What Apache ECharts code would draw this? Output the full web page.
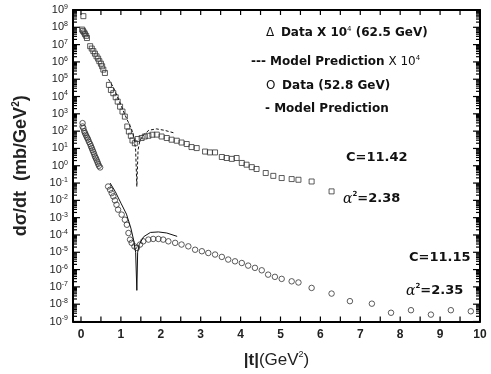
<!DOCTYPE html>
<html>
<head>
<meta charset="utf-8">
<script src="https://cdn.jsdelivr.net/npm/echarts@6/dist/echarts.min.js"></script>
<style>
html, body { margin: 0; padding: 0; background: #fff; }
#chart { width: 491px; height: 374px; }
</style>
</head>
<body>
<div id="chart"></div>
<script>
// 62.5 GeV data (scaled x 10^4): |t| in GeV^2 and dsigma/dt in mb/GeV^2
const tHigh = [0.03, 0.05, 0.06, 0.08, 0.10, 0.13, 0.15,
    0.23, 0.27, 0.31, 0.35, 0.39, 0.43, 0.46, 0.50, 0.53, 0.56, 0.60,
    0.70, 0.75, 0.81, 0.87, 0.92, 0.98, 1.04, 1.10, 1.16, 1.20, 1.25, 1.29, 1.35,
    1.42, 1.52, 1.60, 1.69, 1.79, 1.90, 2.02, 2.15, 2.27, 2.40, 2.52, 2.65, 2.77, 2.90,
    3.11, 3.23, 3.36, 3.53, 3.65, 3.78, 3.90, 4.03, 4.15, 4.28, 4.40, 4.63, 4.82, 5.03, 5.28, 5.45, 5.78, 6.28]
const dsHigh = [7.4e7, 6.2e7, 4.4e8, 5.0e7, 4.0e7, 3.2e7, 2.4e7,
    8.1e6, 5.9e6, 4.2e6, 3.0e6, 2.1e6, 1.55e6, 1.1e6, 7.9e5, 5.6e5, 3.6e5, 2.3e5,
    4.7e4, 2.4e4, 1.55e4, 9.1e3, 5.1e3, 2.6e3, 1.35e3, 690, 186, 95, 54, 29, 20,
    35, 40, 49, 54, 62, 63, 49, 40, 32, 28, 22, 18, 12, 10.5,
    6.6, 5.9, 5.9, 3.2, 2.8, 2.5, 2.8, 1.45, 1.15, 0.83, 0.65, 0.38, 0.26, 0.195, 0.17, 0.155, 0.123, 0.033]

// 52.8 GeV data
const tLow = [0.04, 0.04, 0.06, 0.08, 0.10, 0.12, 0.14, 0.16, 0.18, 0.20, 0.23, 0.25,
    0.27, 0.29, 0.31, 0.33, 0.35, 0.37, 0.39, 0.41, 0.43, 0.45, 0.48,
    0.68, 0.73, 0.77, 0.81, 0.85, 0.89, 0.93, 1.02, 1.10, 1.15, 1.19, 1.23, 1.27, 1.34, 1.40,
    1.48, 1.56, 1.69, 1.81, 1.94, 2.06, 2.19, 2.36, 2.52, 2.69, 2.86, 3.03, 3.19, 3.36,
    3.53, 3.69, 3.86, 4.03, 4.19, 4.36, 4.53, 4.69, 4.86, 5.03, 5.28, 5.45, 5.78, 6.28,
    6.74, 7.29, 7.77, 8.27, 8.77, 9.27, 9.77]
const dsLow = [290, 186, 150, 100, 78, 62, 49, 40, 32, 24, 18, 13.5,
    10.5, 8, 6.2, 4.7, 3.5, 2.8, 2.2, 1.7, 1.3, 1.0, 0.8,
    0.063, 0.041, 0.026, 0.017, 0.01, 5.6e-3, 2.9e-3, 1.5e-3, 7.6e-4, 3.9e-4, 1.3e-4, 5.4e-5, 3.5e-5, 2.2e-5, 1.8e-5,
    2.8e-5, 4.3e-5, 5.4e-5, 5.9e-5, 5.9e-5, 5.4e-5, 4.3e-5, 3.5e-5, 2.8e-5, 2.2e-5, 1.4e-5, 1.15e-5, 9.1e-6, 7.4e-6,
    5.4e-6, 3.8e-6, 3.0e-6, 2.4e-6, 1.7e-6, 1.26e-6, 9.1e-7, 5.1e-7, 3.8e-7, 2.9e-7, 2.1e-7, 1.8e-7, 8.7e-8, 4.1e-8,
    1.5e-8, 1.07e-8, 3.2e-9, 4.5e-9, 2.5e-9, 4.5e-9, 3.9e-9]

// model curves
const tDash = [0.69, 0.81, 0.91, 1.01, 1.10, 1.20, 1.27, 1.33, 1.37, 1.40, 1.43, 1.47, 1.55, 1.70, 1.89, 2.09, 2.36]
const dsDash = [1e5, 3.5e4, 1e4, 2.8e3, 890, 280, 126, 40, 8, 0.063, 8, 25, 56, 112, 135, 112, 76]
const tSolid = [0.73, 0.86, 1.01, 1.14, 1.25, 1.32, 1.37, 1.40, 1.42, 1.46, 1.57, 1.74, 1.94, 2.15, 2.41]
const dsSolid = [0.1, 0.032, 6.3e-3, 1.6e-3, 2.5e-4, 5e-5, 1e-5, 6.3e-8, 1e-5, 2.8e-5, 7.9e-5, 1.4e-4, 1.5e-4, 1.3e-4, 8.3e-5]

// axis ticks
const xMin = -0.2
const xMax = 10
const yMin = 1e-9
const yMax = 1e9
const xLabels = [0, 1, 2, 3, 4, 5, 6, 7, 8, 9, 10]
const xTicks = [0, 0.5, 1, 1.5, 2, 2.5, 3, 3.5, 4, 4.5, 5, 5.5, 6, 6.5, 7, 7.5, 8, 8.5, 9, 9.5, 10]
const yDecades = [1e-9, 1e-8, 1e-7, 1e-6, 1e-5, 1e-4, 1e-3, 1e-2, 1e-1, 1, 1e1, 1e2, 1e3, 1e4, 1e5, 1e6, 1e7, 1e8, 1e9]
const mantissas = [2, 3, 4, 5, 6, 7, 8, 9]

const pairs = (xs, ys) => xs.map((x, i) => [x, ys[i]])

const ink = '#000'
const axisLine = { show: true, onZero: false, lineStyle: { color: ink, width: 2 } }
const supRich = {
    b: { fontFamily: 'Liberation Sans', fontSize: 11, color: '#222', lineHeight: 13 },
    s: { fontFamily: 'Liberation Sans', fontSize: 7, color: '#222', lineHeight: 7, verticalAlign: 'top' }
}

// log tick values: decades get long ticks, 2..9 mantissas short ones
const yTickVals = []
const yTickLens = []
yDecades.forEach((d, i) => {
    yTickVals.push(d); yTickLens.push(7)
    if (i < yDecades.length - 1) mantissas.forEach(m => { yTickVals.push(m * d); yTickLens.push(4) })
})

// tick marks, placed through the grid's own value -> pixel conversion
function buildTicks() {
    const out = []
    const seg = (a, b) => out.push({ type: 'line', shape: { x1: a[0], y1: a[1], x2: b[0], y2: b[1] }, style: { stroke: ink, lineWidth: 1.2 } })
    const px = v => chart.convertToPixel({ gridIndex: 0 }, v)
    yTickVals.forEach((v, i) => {
        const l = px([xMin, v])
        const r = px([xMax, v])
        seg(l, [l[0] + yTickLens[i], l[1]])
        seg(r, [r[0] - yTickLens[i], r[1]])
    })
    xTicks.forEach(t => {
        const b = px([t, yMin])
        const tp = px([t, yMax])
        seg(b, [b[0], b[1] - 5])
        seg(tp, [tp[0], tp[1] + 5])
    })
    return out
}

const chart = echarts.init(document.getElementById('chart'))

chart.setOption({
    animation: false,
    backgroundColor: '#fff',
    grid: { left: 73, right: 11, top: 10, bottom: 52 },
    xAxis: [{
        type: 'value',
        min: xMin,
        max: xMax,
        position: 'bottom',
        axisLine: axisLine,
        axisTick: { show: false },
        axisLabel: {
            customValues: xLabels,
            margin: 7,
            fontFamily: 'Liberation Sans',
            fontSize: 12,
            fontWeight: 'bold',
            color: '#222'
        },
        splitLine: { show: false },
        name: '{b||t|}{r|(GeV}{s|2}{r|)}',
        nameLocation: 'middle',
        nameGap: 29,
        nameTextStyle: {
            rich: {
                b: { fontFamily: 'Liberation Sans', fontSize: 17, fontWeight: 'bold', color: '#222', lineHeight: 20 },
                r: { fontFamily: 'Liberation Sans', fontSize: 17, color: '#222', lineHeight: 20 },
                s: { fontFamily: 'Liberation Sans', fontSize: 9, color: '#222', lineHeight: 9, verticalAlign: 'top' }
            }
        }
    }, {
        type: 'value',
        min: xMin,
        max: xMax,
        position: 'top',
        axisLine: axisLine,
        axisTick: { show: false },
        axisLabel: { show: false },
        splitLine: { show: false }
    }],
    yAxis: [{
        type: 'log',
        logBase: 10,
        min: yMin,
        max: yMax,
        position: 'left',
        axisLine: axisLine,
        axisTick: { show: false },
        axisLabel: {
            customValues: yDecades,
            margin: 5,
            formatter: v => '{b|10}{s|' + Math.round(Math.log10(v)) + '}',
            rich: supRich
        },
        splitLine: { show: false },
        minorTick: { show: false },
        name: '{r|dσ/dt  (mb/GeV}{s|2}{r|)}',
        nameLocation: 'middle',
        nameGap: 41,
        nameTextStyle: {
            rich: {
                r: { fontFamily: 'Liberation Sans', fontSize: 18, fontWeight: 'bold', color: '#222', lineHeight: 21 },
                s: { fontFamily: 'Liberation Sans', fontSize: 10, fontWeight: 'bold', color: '#222', lineHeight: 10, verticalAlign: 'top' }
            }
        }
    }, {
        type: 'log',
        logBase: 10,
        min: yMin,
        max: yMax,
        position: 'right',
        axisLine: axisLine,
        axisTick: { show: false },
        axisLabel: { show: false },
        splitLine: { show: false }
    }],
    series: [{
        name: 'Data X 10^4 (62.5 GeV)',
        type: 'scatter',
        symbol: 'rect',
        symbolSize: 5,
        itemStyle: { color: 'none', borderColor: '#333', borderWidth: 1 },
        data: pairs(tHigh, dsHigh)
    }, {
        name: 'Data (52.8 GeV)',
        type: 'scatter',
        symbol: 'circle',
        symbolSize: 5.5,
        itemStyle: { color: 'none', borderColor: '#333', borderWidth: 1 },
        data: pairs(tLow, dsLow)
    }, {
        name: 'Model Prediction X 10^4',
        type: 'line',
        symbol: 'none',
        lineStyle: { color: '#111', width: 1, type: [3, 2] },
        data: pairs(tDash, dsDash)
    }, {
        name: 'Model Prediction',
        type: 'line',
        symbol: 'none',
        lineStyle: { color: '#111', width: 1 },
        data: pairs(tSolid, dsSolid)
    }]
})

// texts and ticks go in after the first layout, once the axes can convert values
chart.setOption({
    graphic: [
        { type: 'group', id: 'ticks', silent: true, children: buildTicks() },
        legendText('l1', 266, 33, '{n|Δ}  {b|Data X 10}{s|4}{b| (62.5 GeV)}'),
        legendText('l2', 251, 62, '{b|--- Model Prediction}{n| X 10}{s|4}'),
        legendText('l3', 266, 86, '{n|O}  {b|Data (52.8 GeV)}'),
        legendText('l4', 265, 109, '{b|- Model Prediction}'),
        noteText('c1', 346, 158, '{b|C=11.42}'),
        noteText('a1', 343, 199, '{a|α}{s|2}{b|=2.38}'),
        noteText('c2', 409, 258, '{b|C=11.15}'),
        noteText('a2', 406, 291, '{a|α}{s|2}{b|=2.35}')
    ]
})

function legendText(id, x, y, text) {
    return {
        type: 'text', id: id, x: x, y: y,
        style: {
            text: text,
            verticalAlign: 'middle',
            rich: {
                b: { fontFamily: 'DejaVu Sans', fontSize: 12, fontWeight: 'bold', fill: '#111', lineHeight: 15 },
                n: { fontFamily: 'DejaVu Sans', fontSize: 12, fill: '#111', lineHeight: 15 },
                s: { fontFamily: 'DejaVu Sans', fontSize: 7, fill: '#111', lineHeight: 7, verticalAlign: 'top' }
            }
        }
    }
}

function noteText(id, x, y, text) {
    return {
        type: 'text', id: id, x: x, y: y,
        style: {
            text: text,
            verticalAlign: 'middle',
            rich: {
                b: { fontFamily: 'DejaVu Sans', fontSize: 13, fontWeight: 'bold', fill: '#111', lineHeight: 16 },
                a: { fontFamily: 'DejaVu Serif', fontSize: 14, fontStyle: 'italic', fill: '#111', lineHeight: 16 },
                s: { fontFamily: 'DejaVu Sans', fontSize: 7, fontWeight: 'bold', fill: '#111', lineHeight: 7, verticalAlign: 'top' }
            }
        }
    }
}
</script>
</body>
</html>
